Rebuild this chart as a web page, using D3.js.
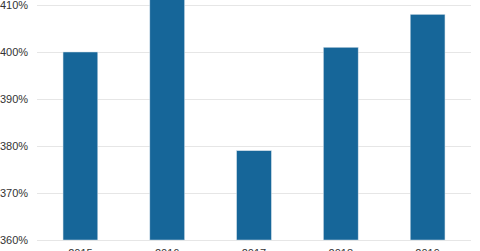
<html>
<head>
<script src="https://d3js.org/d3.v7.min.js"></script>
<style>
body { margin: 0; background: #fff; }
text { font-family: "Liberation Sans", Arial, sans-serif; font-size: 11px; fill: #333; }
</style>
</head>
<body>
<svg id="chart" width="480" height="251"></svg>
<script>
var years = ["2015", "2016", "2017", "2018", "2019"];
var ratios = [400, 414, 379, 401, 408];
var ticks = [360, 370, 380, 390, 400, 410];

var width = 480, height = 251;
var svg = d3.select("#chart");

var x = d3.scaleBand().domain(years).range([37, 471])
  .paddingInner(0.6).paddingOuter(0.3);
var y = d3.scaleLinear().domain([360, 410]).range([240, 5]);

// gridlines
svg.append("g").selectAll("line")
  .data(ticks)
  .enter().append("line")
  .attr("x1", 37).attr("x2", 471)
  .attr("y1", function(d) { return Math.round(y(d)) + 0.5; })
  .attr("y2", function(d) { return Math.round(y(d)) + 0.5; })
  .attr("stroke", "#e6e6e6")
  .attr("stroke-width", 1);

svg.append("g").selectAll("text")
  .data(ticks)
  .enter().append("text")
  .attr("x", 0)
  .attr("y", function(d) { return y(d) + 4; })
  .text(function(d) { return d + "%"; });

// bars
svg.append("g").selectAll("rect")
  .data(ratios)
  .enter().append("rect")
  .attr("x", function(d, i) { return x(years[i]); })
  .attr("y", function(d) { return y(d); })
  .attr("width", x.bandwidth())
  .attr("height", function(d) { return y(360) - y(d); })
  .attr("fill", "#166699")
  .attr("stroke", "#cfdde8")
  .attr("stroke-width", 0.5);

// x labels (mostly cut off at bottom)
svg.append("g").selectAll("text")
  .data(years)
  .enter().append("text")
  .attr("x", function(d) { return x(d) + x.bandwidth() / 2; })
  .attr("y", 257)
  .attr("text-anchor", "middle")
  .text(function(d) { return d; });
</script>
</body>
</html>
